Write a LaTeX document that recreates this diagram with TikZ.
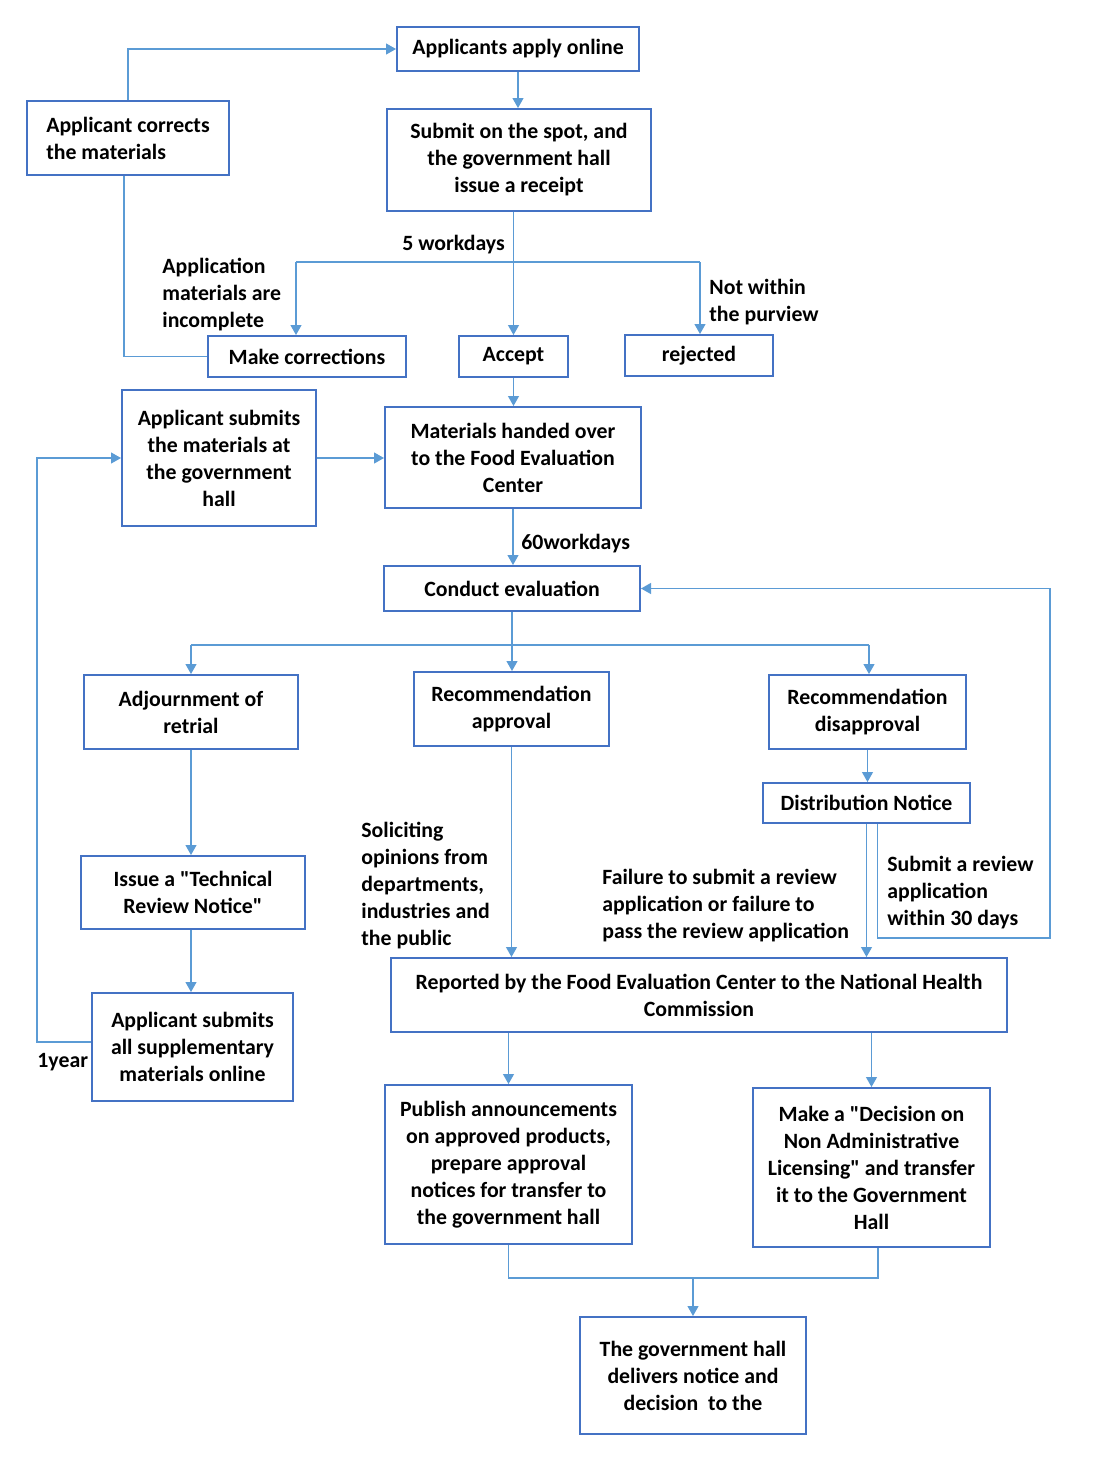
\documentclass[tikz,border=0pt]{standalone}
\usepackage{fontspec}
\newfontfamily\calfont{Carlito}
\usetikzlibrary{arrows.meta}
\definecolor{boxc}{HTML}{4472C4}
\definecolor{linec}{HTML}{5B9BD5}
\tikzset{
  txt/.style={font=\calfont\fontsize{10.9}{13.5}\selectfont\bfseries},
  box/.style={draw=boxc, line width=1pt, align=center, inner sep=2pt, txt},
  conn/.style={draw=linec, line width=0.6pt},
  arr/.style={conn, -{Triangle[length=5pt,width=5.5pt]}, color=linec},
  lbl/.style={inner sep=0pt, align=left, anchor=north west, txt},
}
\begin{document}
\begin{tikzpicture}[x=0.5pt,y=-0.5pt]
\useasboundingbox (0,0) rectangle (1102,1463);
% boxes
\node[box, minimum width=121pt, minimum height=22pt] (apply) at (518,49) {Applicants apply online};
\node[box, minimum width=132pt, minimum height=51pt] (submit) at (519,160) {Submit on the spot, and\\the government hall\\issue a receipt};
\node[box, minimum width=101pt, minimum height=37pt, align=left] (corrects) at (128,138) {Applicant corrects\\the materials};
\node[box, minimum width=99pt, minimum height=20.5pt] (makecorr) at (307,356.5) {Make corrections};
\node[box, minimum width=54.5pt, minimum height=20.5pt] (accept) at (513.5,356.5) {Accept};
\node[box, minimum width=74pt, minimum height=20.5pt] (rejected) at (699,355.5) {rejected};
\node[box, minimum width=97pt, minimum height=68pt] (subhall) at (219,458) {Applicant submits\\the materials at\\the government\\hall};
\node[box, minimum width=128pt, minimum height=50.5pt] (handed) at (513,457.5) {Materials handed over\\to the Food Evaluation\\Center};
\node[box, minimum width=128pt, minimum height=22.5pt] (conduct) at (512,588.5) {Conduct evaluation};
\node[box, minimum width=107pt, minimum height=37pt] (adjourn) at (191,712) {Adjournment of\\retrial};
\node[box, minimum width=97.5pt, minimum height=37pt] (recappr) at (511.5,709) {Recommendation\\approval};
\node[box, minimum width=98.5pt, minimum height=37pt] (recdis) at (867.5,712) {Recommendation\\disapproval};
\node[box, minimum width=103.5pt, minimum height=20pt] (dist) at (866.5,803) {Distribution Notice};
\node[box, minimum width=112pt, minimum height=36.5pt] (tech) at (193,892.5) {Issue a "Technical\\Review Notice"};
\node[box, minimum width=308pt, minimum height=37pt] (reported) at (699,995) {Reported by the Food Evaluation Center to the National Health\\Commission};
\node[box, minimum width=100.5pt, minimum height=54pt] (supp) at (192.5,1047) {Applicant submits\\all supplementary\\materials online};
\node[box, minimum width=123.5pt, minimum height=79.5pt] (publish) at (508.5,1164.5) {Publish announcements\\on approved products,\\prepare approval\\notices for transfer to\\the government hall};
\node[box, minimum width=118.5pt, minimum height=79.5pt] (decision) at (871.5,1167.5) {Make a "Decision on\\Non Administrative\\Licensing" and transfer\\it to the Government\\Hall};
\node[box, minimum width=113pt, minimum height=58.5pt] (final) at (693,1375.5) {The government hall\\delivers notice and\\decision\ \ to the};
% labels
\node[lbl] (l5w) at (402,235) {5 workdays};
\node[lbl] (linc) at (162,258) {Application\\materials are\\incomplete};
\node[lbl] (lnot) at (709,279) {Not within\\the purview};
\node[lbl] (l60) at (521,534) {60workdays};
\node[lbl] (lsol) at (361,822) {Soliciting\\opinions from\\departments,\\industries and\\the public};
\node[lbl] (lfail) at (602,869) {Failure to submit a review\\application or failure to\\pass the review application};
\node[lbl] (lsub) at (887,856) {Submit a review\\application\\within 30 days};
\node[lbl] (l1y) at (37,1053) {1year};
% connectors
\draw[arr] (corrects.north) |- (apply.west);
\draw[arr] (apply.south) -- (apply.south |- submit.north);
\coordinate (bl) at (296,262);
\coordinate (br) at (700,262);
\draw[arr] (submit.south -| accept.north) -- (accept.north);
\draw[conn] (bl) -- (br);
\draw[arr] (bl) -- (bl |- makecorr.north);
\draw[arr] (br) -- (br |- rejected.north);
\draw[conn] (makecorr.west) -| ([xshift=-2pt]corrects.south);
\draw[arr] (accept.south) -- (accept.south |- handed.north);
\draw[arr] (subhall.east) -- (subhall.east -| handed.west);
\draw[arr] (handed.south) -- (handed.south |- conduct.north);
\coordinate (cl) at (191,645);
\coordinate (cr) at (869,645);
\draw[conn] (cl) -- (cr);
\draw[arr] (conduct.south) -- (conduct.south |- recappr.north);
\draw[arr] (cl) -- (adjourn.north);
\draw[arr] (cr) -- (cr |- recdis.north);
\draw[arr] (adjourn.south) -- (adjourn.south |- tech.north);
\draw[arr] (tech.south -| adjourn.south) -- (adjourn.south |- supp.north);
\coordinate (lp) at (37,1042);
\draw[arr] (supp.west |- lp) -- (lp) |- (subhall.west);
\draw[arr] (recappr.south) -- (recappr.south |- reported.north);
\draw[arr] (recdis.south) -- (recdis.south |- dist.north);
\draw[arr] (dist.south) -- (dist.south |- reported.north);
\coordinate (rl) at (1050,938);
\draw[arr] ([xshift=5.5pt]dist.south) |- (rl) |- (conduct.east);
\draw[arr] (reported.south -| publish.north) -- (publish.north);
\draw[arr] (reported.south -| decision.north) -- (decision.north);
\coordinate (m) at (693,1278);
\draw[conn] (publish.south) |- (m) -| ([xshift=3.25pt]decision.south);
\draw[arr] (m) -- (final.north);
\end{tikzpicture}
\end{document}
